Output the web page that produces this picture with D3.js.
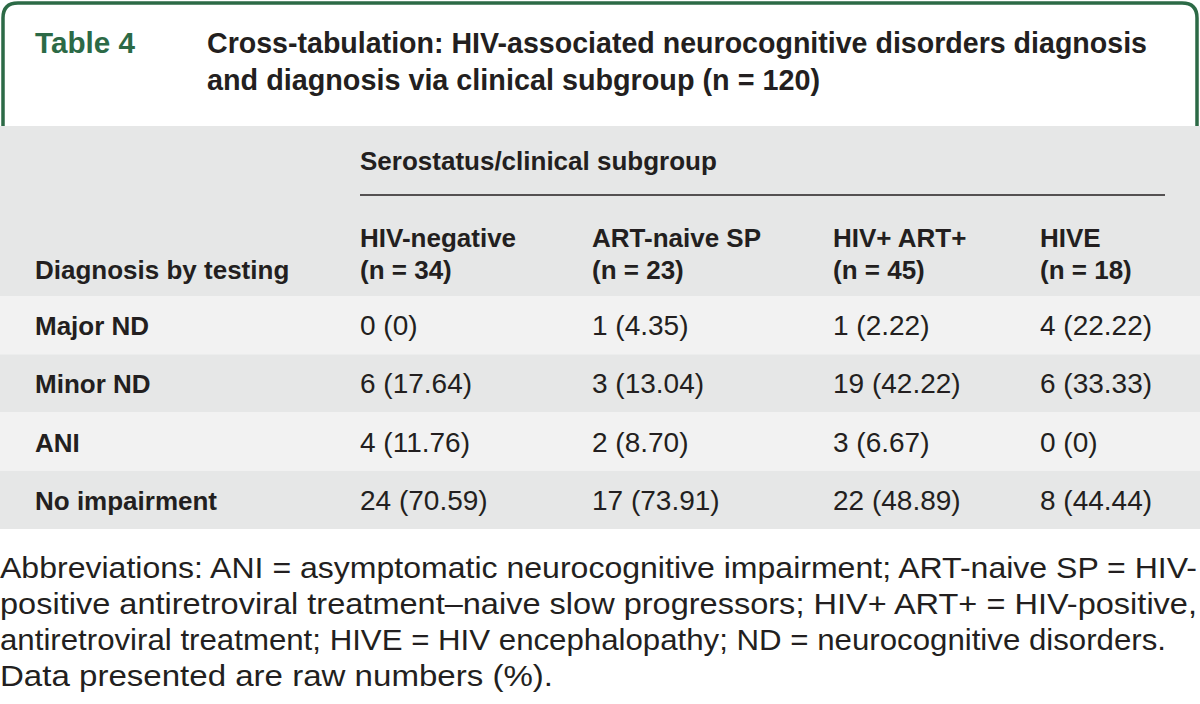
<!DOCTYPE html>
<html>
<head>
<meta charset="utf-8">
<script src="https://cdn.jsdelivr.net/npm/d3@7"></script>
<style>
  html, body { margin: 0; padding: 0; background: #fff; }
  svg { display: block; }
</style>
</head>
<body>
<svg id="chart" width="1200" height="704"></svg>
<script>
// ---- Data ----
const tableLabel = "Table 4";
const titleLines = [
  "Cross-tabulation: HIV-associated neurocognitive disorders diagnosis",
  "and diagnosis via clinical subgroup (n = 120)"
];
const spannerLabel = "Serostatus/clinical subgroup";
const rowHeader = "Diagnosis by testing";
const groups = ["HIV-negative", "ART-naive SP", "HIV+ ART+", "HIVE"];
const groupN = [34, 23, 45, 18];
const diagnoses = ["Major ND", "Minor ND", "ANI", "No impairment"];
const countsHIVneg = [0, 6, 4, 24];
const countsARTnaive = [1, 3, 2, 17];
const countsHIVART = [1, 19, 3, 22];
const countsHIVE = [4, 6, 0, 8];
const pctHIVneg = ["0", "17.64", "11.76", "70.59"];
const pctARTnaive = ["4.35", "13.04", "8.70", "73.91"];
const pctHIVART = ["2.22", "42.22", "6.67", "48.89"];
const pctHIVE = ["22.22", "33.33", "0", "44.44"];
const footnoteLines = [
  "Abbreviations: ANI = asymptomatic neurocognitive impairment; ART-naive SP = HIV-",
  "positive antiretroviral treatment–naive slow progressors; HIV+ ART+ = HIV-positive,",
  "antiretroviral treatment; HIVE = HIV encephalopathy; ND = neurocognitive disorders.",
  "Data presented are raw numbers (%)."
];

// ---- Build ----
const counts = [countsHIVneg, countsARTnaive, countsHIVART, countsHIVE];
const pcts = [pctHIVneg, pctARTnaive, pctHIVART, pctHIVE];

const GREEN = "#2c6a46";
const TEXT = "#231f20";
const GRAY = "#e6e7e7";
const LIGHT = "#f2f2f2";
const FONT = "'Liberation Sans', Arial, sans-serif";

const svg = d3.select("#chart");

// Header frame (green rounded border open at bottom)
const r = 15, bx0 = 3, bx1 = 1197, by0 = 3, by1 = 126;
svg.append("path")
  .attr("d", `M${bx0},${by1} L${bx0},${by0 + r} Q${bx0},${by0} ${bx0 + r},${by0} L${bx1 - r},${by0} Q${bx1},${by0} ${bx1},${by0 + r} L${bx1},${by1}`)
  .attr("fill", "none").attr("stroke", GREEN).attr("stroke-width", 3.5);

svg.append("text")
  .attr("x", 35).attr("y", 53)
  .attr("font-family", FONT).attr("font-weight", "bold").attr("font-size", 29)
  .attr("fill", GREEN)
  .attr("textLength", 100).attr("lengthAdjust", "spacingAndGlyphs")
  .text(tableLabel);

const titleWidths = [940, 613];
svg.selectAll("text.title").data(titleLines).join("text")
  .attr("class", "title")
  .attr("x", 207).attr("y", (d, i) => 53 + i * 37)
  .attr("font-family", FONT).attr("font-weight", "bold").attr("font-size", 29)
  .attr("fill", TEXT)
  .attr("textLength", (d, i) => titleWidths[i])
  .attr("lengthAdjust", "spacingAndGlyphs")
  .text(d => d);

// Table backgrounds
const headerTop = 126, headerBottom = 296, tableBottom = 529;
svg.append("rect").attr("x", 0).attr("y", headerTop).attr("width", 1200)
  .attr("height", headerBottom - headerTop).attr("fill", GRAY);

const y = d3.scaleBand().domain(diagnoses).range([headerBottom, tableBottom]);
const x = d3.scaleOrdinal().domain(groups).range([360, 592, 833, 1040]);

svg.selectAll("rect.row").data(diagnoses).join("rect")
  .attr("class", "row")
  .attr("x", 0).attr("y", d => y(d))
  .attr("width", 1200).attr("height", y.bandwidth())
  .attr("fill", (d, i) => i % 2 === 0 ? LIGHT : GRAY);

// Spanner header
svg.append("text")
  .attr("x", x(groups[0])).attr("y", 170)
  .attr("font-family", FONT).attr("font-weight", "bold").attr("font-size", 26)
  .attr("fill", TEXT).text(spannerLabel);
svg.append("line")
  .attr("x1", x(groups[0])).attr("x2", 1165)
  .attr("y1", 195).attr("y2", 195)
  .attr("stroke", TEXT).attr("stroke-width", 1.5);

// Column headers
const colHead = svg.selectAll("g.colhead").data(groups).join("g").attr("class", "colhead");
colHead.append("text")
  .attr("x", d => x(d)).attr("y", 247)
  .attr("font-family", FONT).attr("font-weight", "bold").attr("font-size", 26)
  .attr("fill", TEXT).text(d => d);
colHead.append("text")
  .attr("x", d => x(d)).attr("y", 279)
  .attr("font-family", FONT).attr("font-weight", "bold").attr("font-size", 26)
  .attr("fill", TEXT).text((d, i) => `(n = ${groupN[i]})`);

svg.append("text")
  .attr("x", 35).attr("y", 279)
  .attr("font-family", FONT).attr("font-weight", "bold").attr("font-size", 26)
  .attr("fill", TEXT).text(rowHeader);

// Row labels
svg.selectAll("text.rowlabel").data(diagnoses).join("text")
  .attr("class", "rowlabel")
  .attr("x", 35).attr("y", d => y(d) + y.bandwidth() / 2 + 10)
  .attr("font-family", FONT).attr("font-weight", "bold").attr("font-size", 26)
  .attr("fill", TEXT).text(d => d);

// Cells
const cells = [];
groups.forEach((g, gi) => {
  diagnoses.forEach((dg, di) => {
    cells.push({ g, dg, count: counts[gi][di], pct: pcts[gi][di] });
  });
});
svg.selectAll("text.cell").data(cells).join("text")
  .attr("class", "cell")
  .attr("x", d => x(d.g)).attr("y", d => y(d.dg) + y.bandwidth() / 2 + 10)
  .attr("font-family", FONT).attr("font-size", 28)
  .attr("fill", TEXT).text(d => `${d.count} (${d.pct})`);

// Footnote
const footWidths = [1197, 1197, 1166, 553];
svg.selectAll("text.foot").data(footnoteLines).join("text")
  .attr("class", "foot")
  .attr("x", 0).attr("y", (d, i) => 578 + i * 36)
  .attr("font-family", FONT).attr("font-size", 29)
  .attr("fill", TEXT)
  .attr("textLength", (d, i) => footWidths[i])
  .attr("lengthAdjust", "spacingAndGlyphs")
  .text(d => d);
</script>
</body>
</html>
